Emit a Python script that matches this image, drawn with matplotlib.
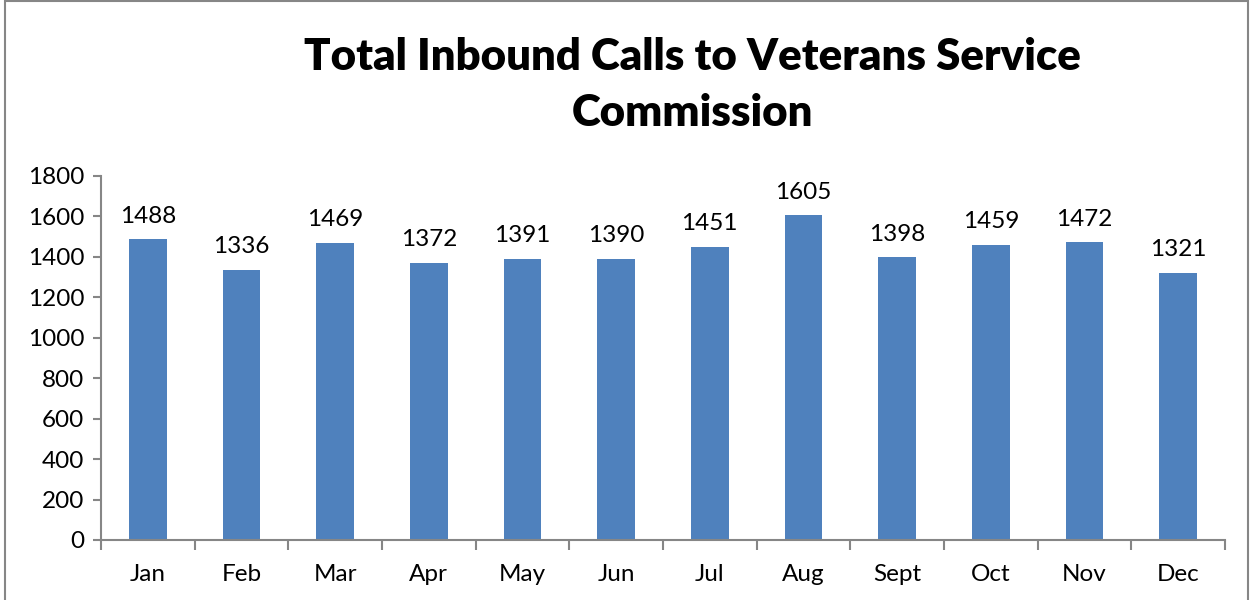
import matplotlib.pyplot as plt
from matplotlib.patches import Rectangle
import numpy as np

plt.rcParams['font.family'] = ['Lato', 'DejaVu Sans']

months = ["Jan", "Feb", "Mar", "Apr", "May", "Jun",
          "Jul", "Aug", "Sept", "Oct", "Nov", "Dec"]
calls = [1488, 1336, 1469, 1372, 1391, 1390, 1451, 1605, 1398, 1459, 1472, 1321]
y_ticks = [0, 200, 400, 600, 800, 1000, 1200, 1400, 1600, 1800]

bar_color = "#4F81BD"
axis_color = "#868686"

fig = plt.figure(figsize=(12.53, 6), dpi=100)
ax = fig.add_axes([0.0806, 0.1, 0.897, 0.6067])

x = np.arange(len(months))
ax.bar(x, calls, width=0.4, color=bar_color, zorder=2)

for xi, v in zip(x, calls):
    ax.annotate(str(v), (xi, v), xytext=(0, 9), textcoords="offset points",
                ha="center", va="bottom", fontsize=17.5)

ax.set_xlim(-0.5, len(months) - 0.5)
ax.set_ylim(0, 1800)
ax.set_yticks(y_ticks)
ax.set_yticklabels([str(t) for t in y_ticks], fontsize=17.5)

# month labels centred, tick marks between categories
ax.set_xticks(x)
ax.set_xticklabels(months, fontsize=17.5)
ax.tick_params(axis="x", length=0, pad=17)
ax.set_xticks(np.arange(-0.5, len(months)), minor=True)
ax.tick_params(axis="x", which="minor", length=7, width=1.5, color=axis_color, direction="out")
ax.tick_params(axis="y", length=6, width=1.5, color=axis_color, direction="out", pad=6)

for s in ["top", "right"]:
    ax.spines[s].set_visible(False)
for s in ["left", "bottom"]:
    ax.spines[s].set_color(axis_color)
    ax.spines[s].set_linewidth(1.5)

fig.text(0.553, 0.905, "Total Inbound Calls to Veterans Service", ha="center", va="center",
         fontsize=31.5, fontweight="heavy")
fig.text(0.553, 0.812, "Commission", ha="center", va="center",
         fontsize=31.5, fontweight="heavy")

# outer chart border
fig.patches.append(Rectangle((0.004, -0.01), 0.992, 1.008, transform=fig.transFigure,
                             fill=False, edgecolor=axis_color, linewidth=1.5))

fig.savefig("out.png", dpi=100)
